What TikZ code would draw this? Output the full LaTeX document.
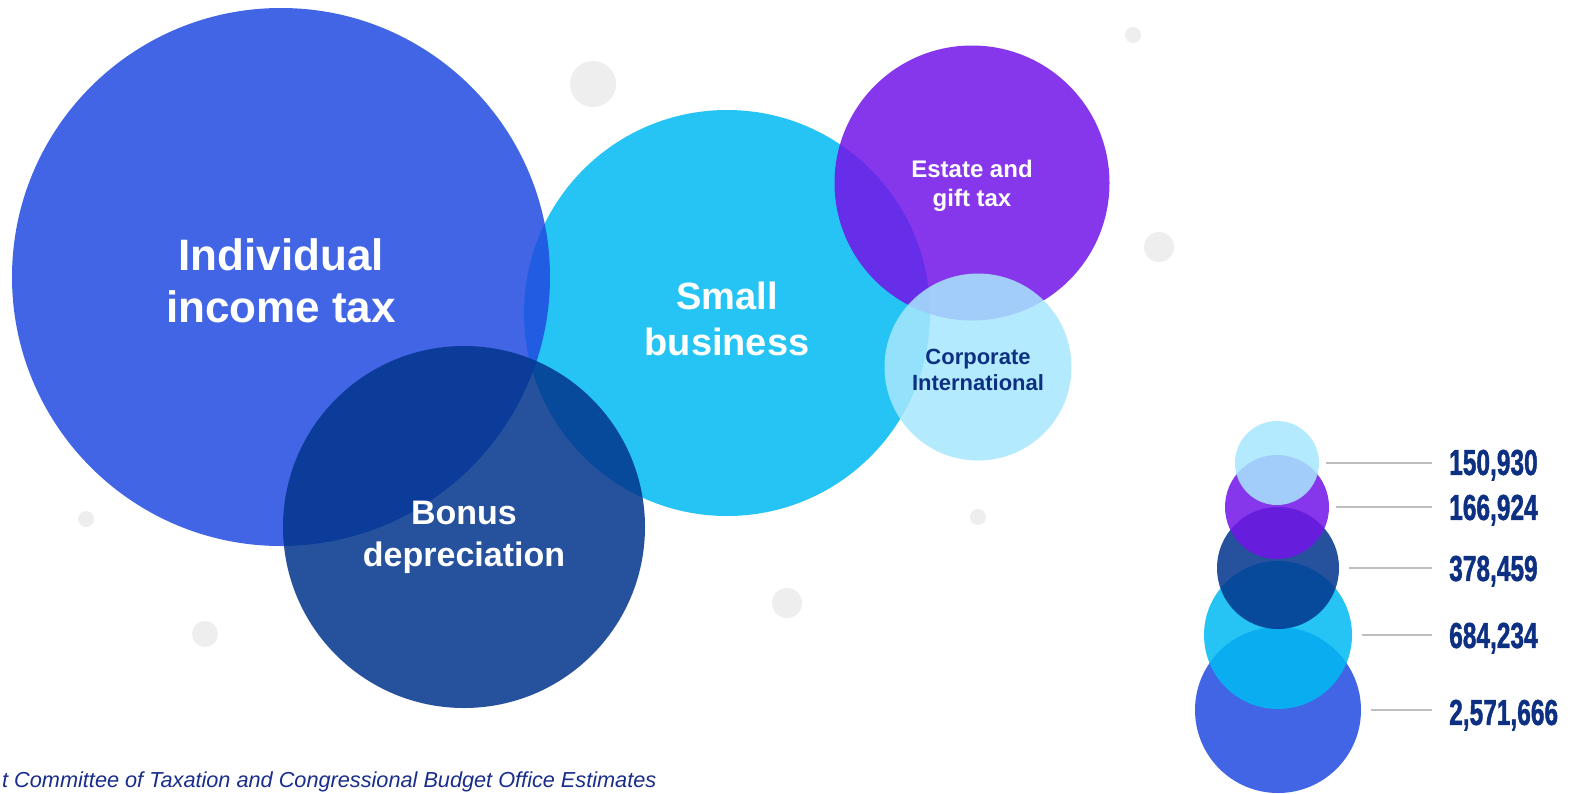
\documentclass[tikz,border=0pt]{standalone}
\usepackage{fontspec}
\setmainfont{Liberation Sans}
\newfontfamily\legfont{Liberation Sans Bold}[FakeBold=1.6]
\usepackage{graphicx}
\definecolor{indiv}{RGB}{32,75,224}
\definecolor{smallb}{RGB}{0,186,243}
\definecolor{bonus}{RGB}{3,54,142}
\definecolor{estate}{RGB}{114,20,232}
\definecolor{corp}{RGB}{167,231,253}
\definecolor{dotgray}{RGB}{238,238,238}
\definecolor{navytext}{RGB}{13,48,130}
\definecolor{srcblue}{RGB}{25,45,140}
\definecolor{linegray}{RGB}{190,190,190}
\newcommand{\legnum}[1]{\scalebox{0.68}[1]{#1}}
\begin{document}
\begin{tikzpicture}[x=1pt,y=-1pt,
  bubble/.style={circle, inner sep=0pt, minimum size=#1, fill opacity=0.85},
  lbl/.style={align=center, text=white, inner sep=0pt},
  dot/.style={fill=dotgray},
  leglabel/.style={anchor=west, inner sep=0pt, text=navytext, text height=25.8pt, text depth=0pt,
     font=\fontsize{36}{36}\selectfont\legfont},
  legline/.style={draw=linegray, line width=1.4pt}]
\useasboundingbox (0,0) rectangle (1575,793);
\fill[white] (0,0) rectangle (1575,793);

% background dots
\fill[dot] (593,84) circle (23pt);
\fill[dot] (1133,35) circle (8pt);
\fill[dot] (1159,247) circle (15pt);
\fill[dot] (86,519) circle (8pt);
\fill[dot] (205,634) circle (13pt);
\fill[dot] (787,603) circle (15pt);
\fill[dot] (978,517) circle (8pt);

% main bubbles
\node[bubble=406pt, fill=smallb] (small) at (727,313) {};
\node[bubble=538pt, fill=indiv] (indiv) at (281,277) {};
\node[bubble=362pt, fill=bonus, fill opacity=0.86] (bonus) at (464,527) {};
\node[bubble=275pt, fill=estate] (estate) at (972,183) {};
\node[bubble=187pt, fill=corp] (corp) at (978,367) {};

% main labels
\node[lbl, font=\fontsize{44}{52}\selectfont\bfseries] (tindiv) at ([yshift=-4pt]indiv.center) {Individual\\income tax};
\node[lbl, font=\fontsize{38}{46}\selectfont\bfseries] (tsmall) at ([yshift=-6pt]small.center) {Small\\business};
\node[lbl, font=\fontsize{34}{42}\selectfont\bfseries] (tbonus) at ([yshift=-10pt]bonus.center) {Bonus\\depreciation};
\node[lbl, font=\fontsize{24}{29}\selectfont\bfseries] (testate) at ([yshift=-3pt]estate.center) {Estate and\\gift tax};
\node[lbl, text=navytext, font=\fontsize{22}{26}\selectfont\bfseries] (tcorp) at ([yshift=-3pt]corp.center) {Corporate\\International};

% legend bubbles
\node[bubble=166pt, fill=indiv] (c5) at (1278,710) {};
\node[bubble=148pt, fill=smallb] (c4) at (1278,635) {};
\node[bubble=122pt, fill=bonus, fill opacity=0.86] (c3) at (1278,568) {};
\node[bubble=104pt, fill=estate] (c2) at (1277,507) {};
\node[bubble=84pt, fill=corp] (c1) at (1277,463) {};

% legend labels
\node[leglabel] (l1) at (1449,462) {\legnum{150,930}};
\node[leglabel] (l2) at (1449,507) {\legnum{166,924}};
\node[leglabel] (l3) at (1449,568) {\legnum{378,459}};
\node[leglabel] (l4) at (1449,635) {\legnum{684,234}};
\node[leglabel] (l5) at (1449,712) {\legnum{2,571,666}};

\draw[legline] ([xshift=7pt]c1.east) -- ([xshift=-17pt]c1.east -| l1.west);
\draw[legline] ([xshift=7pt]c2.east) -- ([xshift=-17pt]c2.east -| l2.west);
\draw[legline] ([xshift=10pt]c3.east) -- ([xshift=-17pt]c3.east -| l3.west);
\draw[legline] ([xshift=10pt]c4.east) -- ([xshift=-17pt]c4.east -| l4.west);
\draw[legline] ([xshift=10pt]c5.east) -- ([xshift=-17pt]c5.east -| l5.west);

% source
\node[anchor=base west, inner sep=0pt, text=srcblue, font=\fontsize{21.7}{24}\selectfont\itshape] (src) at (2,787) {t Committee of Taxation and Congressional Budget Office Estimates};
\end{tikzpicture}
\end{document}
